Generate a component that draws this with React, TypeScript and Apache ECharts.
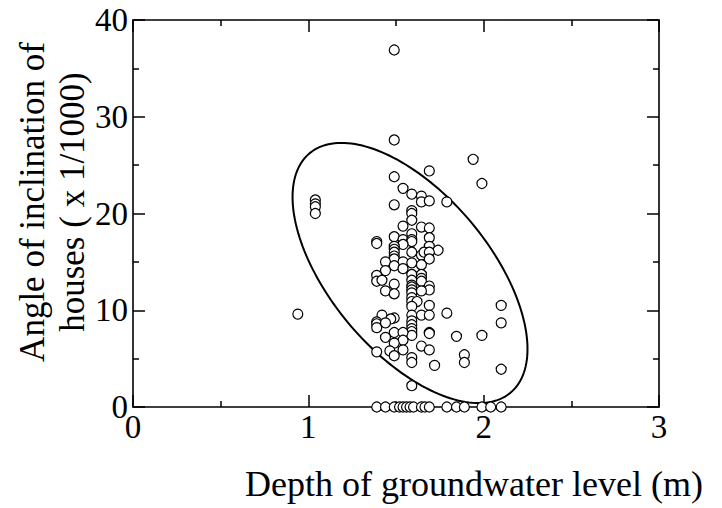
import React, { useEffect, useRef } from "react";
import * as echarts from "echarts";

const xTickLabels = ["0", "1", "2", "3"];
const yTickLabels = ["0", "10", "20", "30", "40"];
const xTitle = "Depth of groundwater level (m)";
const yTitle = "Angle of inclination of\nhouses ( x 1/1000)";

// depth of groundwater level (m)
const depthValues = [
  1.49, 1.49, 1.94, 1.69, 1.49, 1.99, 1.54, 1.59, 1.645, 1.645,
  1.69, 1.79, 1.49, 1.04, 1.04, 1.04, 1.04, 1.59, 1.59, 1.59,
  1.54, 1.645, 1.69, 1.59, 1.49, 1.69, 1.54, 1.59, 1.59, 1.39,
  1.39, 1.54, 1.49, 1.49, 1.49, 1.49, 1.49, 1.69, 1.74, 1.59,
  1.645, 1.66, 1.69, 1.69, 1.44, 1.54, 1.59, 1.645, 1.49, 1.44,
  1.54, 1.39, 1.39, 1.42, 1.59, 1.59, 1.59, 1.59, 1.59, 1.59,
  1.59, 1.59, 1.645, 1.645, 1.645, 1.49, 1.69, 1.69, 1.44, 1.49,
  1.645, 1.62, 1.59, 1.69, 2.10, 1.59, 1.59, 1.59, 1.59, 1.59,
  1.59, 1.645, 1.69, 0.94, 1.79, 1.42, 1.49, 1.47, 1.39, 1.39,
  1.39, 1.44, 2.10, 1.49, 1.54, 1.69, 1.69, 1.99, 1.845, 1.44,
  1.54, 1.49, 1.645, 1.69, 1.39, 1.465, 1.54, 1.89, 1.89, 1.49,
  1.59, 1.59, 1.72, 2.10, 1.59,
  1.39, 1.44, 1.49, 1.52, 1.54, 1.56, 1.58, 1.60, 1.645, 1.665,
  1.69, 1.79, 1.845, 1.89, 1.99, 2.04, 2.10,
];

// angle of inclination of houses (x 1/1000)
const angleValues = [
  36.9, 27.6, 25.6, 24.4, 23.8, 23.1, 22.6, 22.0, 21.8, 21.2,
  21.3, 21.2, 20.9, 21.4, 21.0, 20.7, 20.0, 20.3, 20.0, 19.3,
  18.7, 18.6, 18.5, 17.9, 17.6, 17.5, 17.3, 17.3, 17.1, 17.1,
  16.9, 16.8, 16.6, 16.3, 16.0, 15.6, 15.3, 16.6, 16.2, 16.0,
  15.7, 16.0, 16.0, 15.3, 15.0, 15.0, 14.9, 14.7, 14.6, 14.1,
  14.3, 13.6, 13.0, 13.1, 13.7, 13.1, 12.6, 12.4, 12.1, 11.8,
  11.3, 10.9, 13.7, 13.3, 13.0, 12.7, 12.5, 12.1, 12.0, 11.7,
  12.0, 10.9, 10.4, 10.5, 10.5, 9.5, 8.9, 8.5, 8.1, 7.8,
  7.4, 9.5, 9.5, 9.6, 9.7, 9.5, 9.2, 9.1, 8.8, 8.6,
  8.2, 8.7, 8.7, 7.7, 7.7, 7.7, 7.6, 7.4, 7.3, 7.2,
  6.9, 6.6, 6.3, 5.9, 5.7, 5.8, 5.9, 5.4, 4.6, 5.3,
  5.1, 4.6, 4.3, 3.9, 2.2,
  0, 0, 0, 0, 0, 0, 0, 0, 0, 0,
  0, 0, 0, 0, 0, 0, 0,
];

// ellipse annotation (data units): centre and conjugate half-axis vectors
const ellipseCenter = [1.58, 13.85];
const ellipseAxisA = [0.67, -7.85];
const ellipseAxisB = [0, 10.92];

const FONT = "'Liberation Serif', 'Times New Roman', serif";

export default function App() {
  const ref = useRef<HTMLDivElement>(null);

  useEffect(() => {
    if (!ref.current) return;
    const chart = echarts.init(ref.current, null, { renderer: "svg" });
    const points = depthValues.map((d, i) => [d, angleValues[i]]);

    const axisCommon = {
      type: "value" as const,
      axisLine: { show: true, onZero: false, lineStyle: { color: "#000", width: 1.6 } },
      axisTick: { show: true, inside: true, length: 12, lineStyle: { color: "#000", width: 1.5 } },
      minorTick: { show: true, splitNumber: 2, length: 6, lineStyle: { color: "#000", width: 1.5 } },
      splitLine: { show: false },
      minorSplitLine: { show: false },
    };

    chart.setOption({
      animation: false,
      backgroundColor: "#fff",
      grid: { left: 133, right: 63, top: 20, bottom: 101, containLabel: false },
      xAxis: [
        {
          ...axisCommon,
          position: "bottom",
          min: 0,
          max: 3,
          interval: 1,
          axisLabel: {
            show: true,
            margin: 3,
            color: "#000",
            fontFamily: FONT,
            fontSize: 33,
            formatter: (v: number) => xTickLabels[Math.round(v)] ?? "",
          },
        },
        {
          ...axisCommon,
          position: "top",
          min: 0,
          max: 3,
          interval: 1,
          axisLabel: { show: false },
        },
      ],
      yAxis: [
        {
          ...axisCommon,
          position: "left",
          min: 0,
          max: 40,
          interval: 10,
          axisLabel: {
            show: true,
            margin: 5,
            color: "#000",
            fontFamily: FONT,
            fontSize: 33,
            formatter: (v: number) => yTickLabels[Math.round(v / 10)] ?? "",
          },
        },
        {
          ...axisCommon,
          position: "right",
          min: 0,
          max: 40,
          interval: 10,
          axisLabel: { show: false },
        },
      ],
      graphic: [
        {
          type: "text",
          x: 474,
          y: 484,
          style: {
            text: xTitle,
            fill: "#000",
            font: `36px ${FONT}`,
            align: "center",
            verticalAlign: "middle",
          },
        },
        {
          type: "text",
          x: 52,
          y: 202,
          rotation: Math.PI / 2,
          style: {
            text: yTitle,
            fill: "#000",
            font: `35px ${FONT}`,
            align: "center",
            verticalAlign: "middle",
            lineHeight: 40,
          },
        },
      ],
      series: [
        {
          type: "custom",
          coordinateSystem: "cartesian2d",
          clip: false,
          data: [[ellipseCenter[0], ellipseCenter[1]]],
          z: 1,
          renderItem: (_params: any, api: any) => {
            const pts: number[][] = [];
            const n = 180;
            for (let k = 0; k <= n; k++) {
              const t = (k / n) * Math.PI * 2;
              const c = Math.cos(t);
              const s = Math.sin(t);
              const x = ellipseCenter[0] + ellipseAxisA[0] * c + ellipseAxisB[0] * s;
              const y = ellipseCenter[1] + ellipseAxisA[1] * c + ellipseAxisB[1] * s;
              pts.push(api.coord([x, y]));
            }
            return {
              type: "polyline",
              shape: { points: pts },
              style: { stroke: "#000", lineWidth: 2, fill: "none" },
            };
          },
        },
        {
          type: "scatter",
          data: points,
          symbol: "circle",
          symbolSize: 10,
          clip: false,
          z: 3,
          itemStyle: { color: "#fff", borderColor: "#000", borderWidth: 1.2, opacity: 1 },
          emphasis: { disabled: true },
        },
      ],
    });

    return () => chart.dispose();
  }, []);

  return (
    <div
      ref={ref}
      style={{ position: "fixed", left: 0, top: 0, width: 722, height: 508 }}
    />
  );
}
